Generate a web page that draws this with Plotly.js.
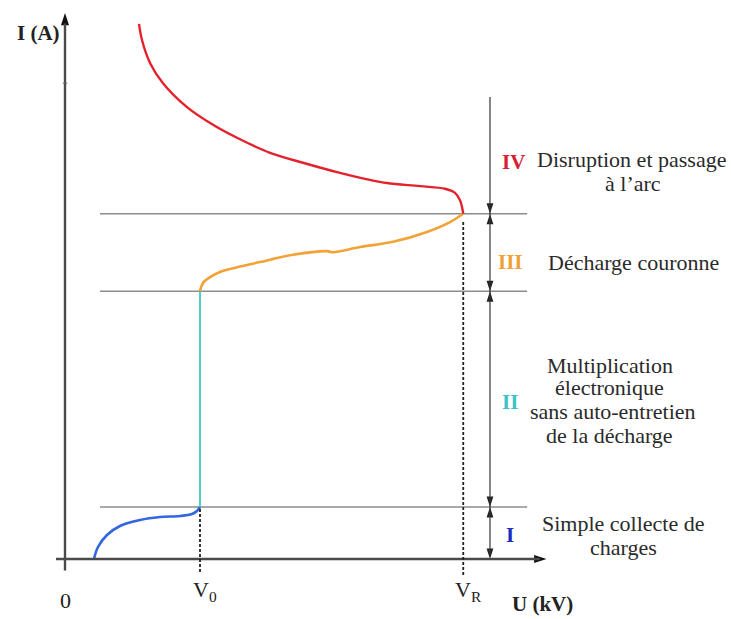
<!DOCTYPE html>
<html>
<head>
<meta charset="utf-8">
<script src="https://cdn.plot.ly/plotly-3.0.1.min.js"></script>
<style>
  html, body { margin: 0; padding: 0; background: #fff; }
  #chart { width: 731px; height: 619px; }
</style>
</head>
<body>
<div id="chart"></div>
<script>
// Characteristic I(U) of a gas discharge, four regimes.
// Voltage U in kV (arbitrary units), current I in A (arbitrary units).

// Key voltages
const V0 = 3.0;     // onset of electronic multiplication
const VR = 8.85;    // breakdown voltage

// Current levels bounding the regimes
const levelI = 1.0;     // top of regime I
const levelII = 5.15;   // top of regime II
const levelIII = 6.64;  // top of regime III (breakdown point)
const topIV = 8.885;    // upper end of regime IV arrow

// Regime I : simple charge collection
const blueU = [0.644, 0.733, 0.933, 1.222, 1.667, 2.111, 2.556, 2.822, 2.933, 3.0];
const blueI = [0.0, 0.231, 0.462, 0.635, 0.75, 0.808, 0.827, 0.865, 0.923, 1.0];

// Regime II : multiplication without self-sustainment (vertical at V0)
const tealU = [3.0, 3.0];
const tealI = [1.0, 5.15];

// Regime III : corona discharge
const orangeU = [3.0, 3.067, 3.222, 3.444, 4.333, 5.067, 5.822, 5.956, 6.556, 7.289, 8.044, 8.556, 8.85];
const orangeI = [5.15, 5.31, 5.42, 5.52, 5.71, 5.85, 5.92, 5.90, 6.0, 6.10, 6.29, 6.48, 6.64];

// Regime IV : breakdown and transition to arc
const redU = [8.85, 8.822, 8.778, 8.667, 8.444, 7.889, 7.156, 6.778, 6.044, 5.289, 4.556, 3.822, 3.289, 2.711, 2.178, 1.889, 1.711, 1.644];
const redI = [6.64, 6.77, 6.90, 7.04, 7.12, 7.17, 7.23, 7.29, 7.44, 7.62, 7.81, 8.10, 8.35, 8.69, 9.15, 9.54, 9.98, 10.29];

// Tick labels on the U axis
const tickU = [0, V0, VR];
const tickText = ['0', 'V<sub>0</sub>', 'V<sub>R</sub>'];

// Axis extents
const uAxisEnd = 10.7, iAxisEnd = 10.5;
const uAxisStart = -0.2, iAxisStart = -0.22;

// Regime labels
const romans = ['IV', 'III', 'II', 'I'];
const romanColors = ['#d81e35', '#f0a035', '#3cc3c8', '#1a2fbf'];
const romanI = [7.64, 5.71, 3.02, 0.46];

const descLines = [
  'Disruption et passage', 'à l\u2019arc',
  'Décharge couronne',
  'Multiplication', 'électronique', 'sans auto-entretien', 'de la décharge',
  'Simple collecte de', 'charges'
];
const descU = [12.58, 12.62, 12.64, 12.11, 12.11, 12.18, 12.11, 12.42, 12.42];
const descI = [7.69, 7.23, 5.71, 3.73, 3.29, 2.83, 2.38, 0.69, 0.23];

const serif = 'Liberation Serif, Times New Roman, serif';
const arrowX = 9.444;
const lineL = 0.778, lineR = 10.27;

// Arrowhead positions for the regime arrows (tip on each level line)
const headY = [levelIII, levelIII, levelII, levelII, levelI, levelI, 0];
const headAngle = [180, 0, 180, 0, 180, 0, 180];

const traces = [
  { x: blueU, y: blueI, mode: 'lines', line: { color: '#3366e0', width: 2.6, shape: 'spline', smoothing: 1 } },
  { x: tealU, y: tealI, mode: 'lines', line: { color: '#3cc8c4', width: 1.8 } },
  { x: orangeU, y: orangeI, mode: 'lines', line: { color: '#f4a236', width: 2.6, shape: 'spline', smoothing: 1 } },
  { x: redU, y: redI, mode: 'lines', line: { color: '#e3222e', width: 2.4, shape: 'spline', smoothing: 1 } },
  // regime arrowheads
  { x: headY.map(() => arrowX), y: headY, mode: 'markers',
    marker: { symbol: 'arrow', size: 11, angle: headAngle, color: '#222', line: { width: 0 } } },
  // axis arrowheads
  { x: [uAxisEnd, 0], y: [0, iAxisEnd], mode: 'markers',
    marker: { symbol: 'arrow', size: 13, angle: [90, 0], color: '#111', line: { width: 0 } } }
];

const shapes = [];
// Axes
shapes.push({ type: 'line', xref: 'x', yref: 'y', x0: uAxisStart, x1: uAxisEnd - 0.15, y0: 0, y1: 0,
  line: { color: '#4a4a4a', width: 2.4 } });
shapes.push({ type: 'line', xref: 'x', yref: 'y', x0: 0, x1: 0, y0: iAxisStart, y1: iAxisEnd - 0.2,
  line: { color: '#4a4a4a', width: 2.4 } });
// Level lines
[levelI, levelII, levelIII].forEach(lv => {
  shapes.push({ type: 'line', xref: 'x', yref: 'y', x0: lineL, x1: lineR, y0: lv, y1: lv,
    line: { color: '#8c8c8c', width: 1.6 }, layer: 'below' });
});
// Regime arrow shaft
shapes.push({ type: 'line', xref: 'x', yref: 'y', x0: arrowX, x1: arrowX, y0: 0.1, y1: topIV,
  line: { color: '#333', width: 1.2 } });
// Dotted verticals at V0 and VR
shapes.push({ type: 'line', xref: 'x', yref: 'y', x0: V0, x1: V0, y0: -0.25, y1: levelI,
  line: { color: '#222', width: 1.8, dash: '3px,2px' } });
shapes.push({ type: 'line', xref: 'x', yref: 'y', x0: VR, x1: VR, y0: -0.31, y1: 6.52,
  line: { color: '#222', width: 1.8, dash: '3px,2px' } });
// Small tick on the I axis
shapes.push({ type: 'line', xref: 'x', yref: 'y', x0: -0.05, x1: 0.05, y0: 9.15, y1: 9.15,
  line: { color: '#666', width: 1 } });

const annotations = [];
// Axis titles
annotations.push({ x: -0.6, y: 10.12, xref: 'x', yref: 'y', text: '<b>I (A)</b>', showarrow: false,
  font: { family: serif, size: 21, color: '#222' } });
annotations.push({ x: 10.6, y: -0.87, xref: 'x', yref: 'y', text: '<b>U (kV)</b>', showarrow: false,
  font: { family: serif, size: 21, color: '#222' } });

// U-axis tick labels
tickU.forEach((u, i) => {
  annotations.push({ x: u, y: i === 0 ? -0.79 : -0.62, xref: 'x', yref: 'y', text: tickText[i], showarrow: false,
    xshift: i === 0 ? 0 : 5, font: { family: serif, size: 22, color: '#222' } });
});

// Roman numerals
romans.forEach((r, i) => {
  annotations.push({ x: 9.89, y: romanI[i], xref: 'x', yref: 'y', text: '<b>' + r + '</b>', showarrow: false,
    xshift: r === 'IV' ? 3 : 0, font: { family: serif, size: 21, color: romanColors[i] } });
});

// Regime descriptions
descLines.forEach((t, i) => {
  annotations.push({ x: descU[i], y: descI[i], xref: 'x', yref: 'y', text: t, showarrow: false,
    borderpad: 0, font: { family: serif, size: 22, color: '#2a2a2a' } });
});

const layout = {
  width: 731, height: 619,
  margin: { l: 0, r: 0, t: 0, b: 0 },
  paper_bgcolor: '#fff', plot_bgcolor: '#fff',
  showlegend: false,
  xaxis: { range: [-1.4444, 14.8], visible: false, fixedrange: true },
  yaxis: { range: [-1.1538, 10.75], visible: false, fixedrange: true },
  shapes: shapes,
  annotations: annotations
};

Plotly.newPlot('chart', traces, layout, { staticPlot: true, displayModeBar: false });
</script>
</body>
</html>
